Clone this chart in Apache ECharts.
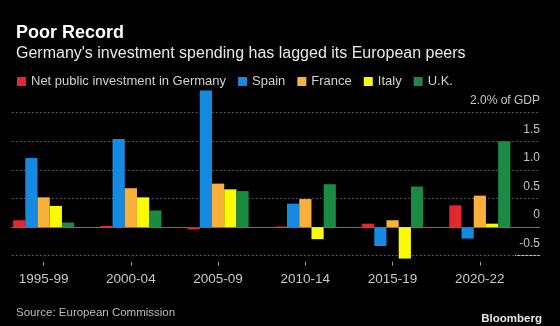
<!DOCTYPE html>
<html>
<head>
<meta charset="utf-8">
<script src="https://cdn.jsdelivr.net/npm/echarts@6/dist/echarts.min.js"></script>
<style>
  html, body { margin: 0; padding: 0; background: #000; }
  #chart { width: 560px; height: 326px; }
</style>
</head>
<body>
<div id="chart"></div>
<script>
// Net public investment, % of GDP, period averages
const periods = ['1995-99', '2000-04', '2005-09', '2010-14', '2015-19', '2020-22'];
const germany = [0.12, 0.02, -0.04, 0.01, 0.06, 0.38];
const spain   = [1.21, 1.54, 2.39, 0.41, -0.33, -0.20];
const france  = [0.52, 0.68, 0.76, 0.49, 0.12, 0.55];
const italy   = [0.37, 0.52, 0.66, -0.21, -0.55, 0.06];
const uk      = [0.08, 0.29, 0.63, 0.75, 0.71, 1.50];
const yTicks  = [-0.5, 0, 0.5, 1.0, 1.5, 2.0];

const seriesDefs = [
  { name: 'Net public investment in Germany', data: germany, color: '#e2282c' },
  { name: 'Spain',  data: spain,  color: '#1689e0' },
  { name: 'France', data: france, color: '#fab13a' },
  { name: 'Italy',  data: italy,  color: '#fafa05' },
  { name: 'U.K.',   data: uk,     color: '#1b8a43' }
];

const FONT = '"Liberation Sans", Arial, sans-serif';
const yMin = yTicks[0], yMax = yTicks[yTicks.length - 1];

const chart = echarts.init(document.getElementById('chart'), null, { renderer: 'canvas' });

chart.setOption({
  backgroundColor: '#000',
  animation: false,
  textStyle: { fontFamily: FONT },
  title: [
    { text: 'Poor Record', left: 11, top: 19,
      textStyle: { color: '#fff', fontSize: 18, fontWeight: 'bold', fontFamily: FONT } },
    { text: "Germany's investment spending has lagged its European peers", left: 11, top: 41,
      textStyle: { color: '#e8e8e8', fontSize: 16, fontWeight: 'normal', fontFamily: FONT } },
    { text: 'Source: European Commission', left: 11, top: 302,
      textStyle: { color: '#bcbcbc', fontSize: 11.5, fontWeight: 'normal', fontFamily: FONT } },
    { text: 'Bloomberg', right: 13, top: 308,
      textStyle: { color: '#e6e6e6', fontSize: 11.5, fontWeight: 'bold', fontFamily: FONT } }
  ],
  legend: {
    left: 12, top: 70,
    itemWidth: 9, itemHeight: 9, itemGap: 12,
    icon: 'rect',
    textStyle: { color: '#d2d2d2', fontSize: 13, fontFamily: FONT },
    data: seriesDefs.map(s => s.name)
  },
  grid: [
    // value scale: dotted gridlines, zero line and right-hand labels
    { left: 11.7, right: 20, top: 112.7, height: 143 },
    // bars and period labels
    { left: -1.55, width: 525, top: 112.7, height: 143 }
  ],
  xAxis: [
    { type: 'category', gridIndex: 0, data: periods,
      axisLine: { show: true, onZero: true, lineStyle: { color: '#6e6e6e', width: 1 } },
      axisTick: { show: false }, axisLabel: { show: false }, splitLine: { show: false } },
    { type: 'category', gridIndex: 1, data: periods, offset: 6,
      axisLine: { show: false, onZero: false },
      axisTick: { show: true, alignWithLabel: true, length: 4, lineStyle: { color: '#9a9a9a' } },
      axisLabel: { color: '#c8c8c8', fontSize: 13.5, margin: 11, fontFamily: FONT },
      splitLine: { show: false } }
  ],
  yAxis: [
    { type: 'value', gridIndex: 0, position: 'right', min: yMin, max: yMax, interval: 0.5,
      axisLine: { show: false }, axisTick: { show: false },
      splitLine: { show: true, lineStyle: { color: '#5a5a5a', type: [2, 2], width: 1 } },
      axisLabel: {
        inside: true, margin: 0, color: '#c4c4c4', fontSize: 12, fontFamily: FONT,
        verticalAlign: 'bottom', padding: [0, 0, 6, 0],
        formatter: v => {
          if (v === yMax) return yMax.toFixed(1) + '% of GDP';
          if (v === 0) return '0';
          return v.toFixed(1);
        }
      } },
    { type: 'value', gridIndex: 1, min: yMin, max: yMax, interval: 0.5, show: false,
      splitLine: { show: false } }
  ],
  series: seriesDefs.map(s => ({
    type: 'bar', name: s.name, data: s.data,
    xAxisIndex: 1, yAxisIndex: 1,
    barGap: '0%', barCategoryGap: '30%',
    clip: false,
    itemStyle: { color: s.color }
  })),
  graphic: [
    { type: 'line', shape: { x1: 515, y1: 255.5, x2: 540, y2: 255.5 },
      style: { stroke: '#d8d8d8', lineWidth: 1 } }
  ]
});
</script>
</body>
</html>
